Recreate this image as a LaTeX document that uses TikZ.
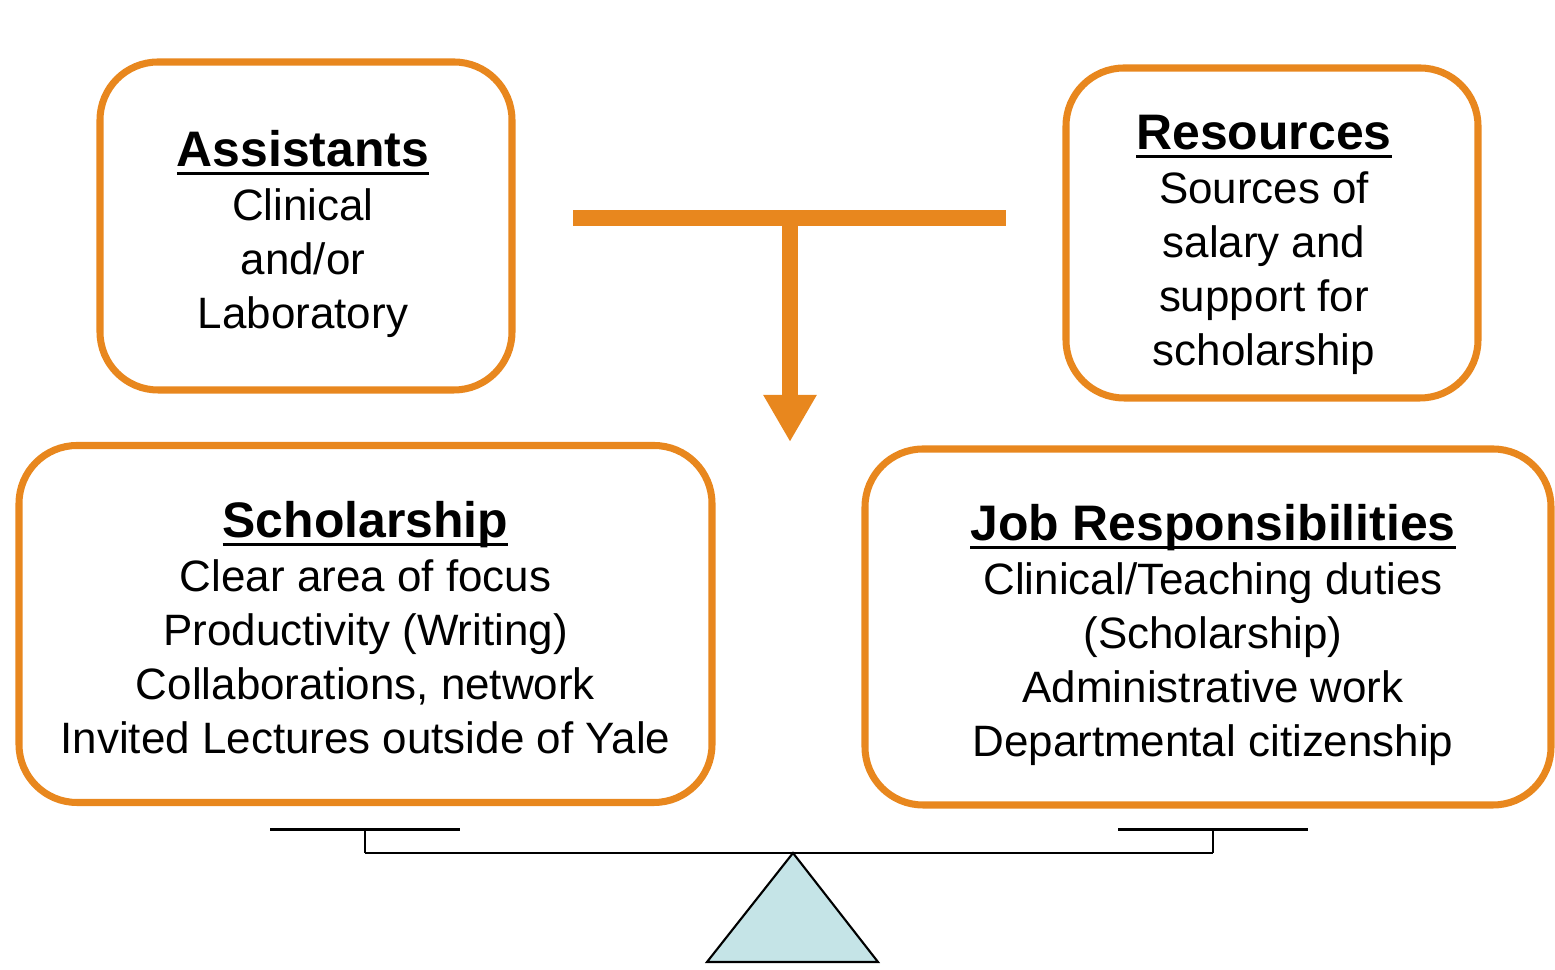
\documentclass[tikz,border=0pt]{standalone}
\usepackage{fontspec}
\setmainfont{Liberation Sans}
\usetikzlibrary{arrows.meta}

\definecolor{boxorange}{RGB}{232,135,30}
\definecolor{pivotblue}{RGB}{197,228,231}

% underlined bold title
\newcommand{\boxtitle}[1]{\setbox0\hbox{\fontsize{14.2}{15.36}\selectfont\bfseries #1}%
  \rlap{\rule[-2.3pt]{\wd0}{0.8pt}}\box0}

\tikzset{
  roundbox/.style={draw=boxorange, line width=2pt, rounded corners=0.58cm, inner sep=0pt},
  boxtext/.style={align=center, font=\fontsize{12.5}{15.36}\selectfont, inner sep=0pt},
  tbar/.style={draw=boxorange, line width=0.16cm},
}

\begin{document}
\begin{tikzpicture}
\useasboundingbox (0,0) rectangle (15.55,9.70);

% top boxes
\node[roundbox, minimum width=4.12cm, minimum height=3.28cm] (assistBox) at (3.06,7.44) {};
\node[boxtext] (assistText) at (3.03,7.36)
    {\boxtitle{Assistants}\\Clinical\\and/or\\Laboratory};

\node[roundbox, minimum width=4.12cm, minimum height=3.30cm] (resBox) at (12.72,7.37) {};
\node[boxtext] (resText) at (12.64,7.25)
    {\boxtitle{Resources}\\Sources of\\salary and\\support for\\scholarship};

% bottom boxes
\node[roundbox, minimum width=6.93cm, minimum height=3.57cm] (scholBox) at (3.655,3.46) {};
\node[boxtext] (scholText) at (3.655,3.42)
    {\boxtitle{Scholarship}\\Clear area of focus\\Productivity (Writing)\\Collaborations, network\\Invited Lectures outside of Yale};

\node[roundbox, minimum width=6.86cm, minimum height=3.56cm] (jobBox) at (12.08,3.43) {};
\node[boxtext] (jobText) at (12.13,3.35)
    {\boxtitle{Job Responsibilities}\\Clinical/Teaching duties\\(Scholarship)\\Administrative work\\Departmental citizenship};

% T bar and arrow
\coordinate (barL) at (5.73,7.52);
\coordinate (barR) at (10.06,7.52);
\coordinate (barM) at (7.90,7.52);
\coordinate (tip) at (7.90,5.28);
\draw[tbar] (barL) -- (barR);
\draw[tbar, -{Triangle[width=0.5cm, length=0.47cm]}] (barM) -- (tip);

% balance
\def\beamy{1.17}
\def\pany{1.40}
\foreach \x in {3.65, 12.13} {
    \draw[line width=0.85pt] (\x-0.95, \pany) -- (\x+0.95, \pany);
    \draw[line width=0.6pt] (\x, \pany) -- (\x, \beamy);
}
\draw[line width=0.6pt] (3.65,\beamy) -- (12.13,\beamy);
\coordinate (pivot) at (7.93,\beamy);
\draw[line width=0.6pt, fill=pivotblue] (pivot) -- (8.78,0.08) -- (7.07,0.08) -- cycle;

\end{tikzpicture}
\end{document}
